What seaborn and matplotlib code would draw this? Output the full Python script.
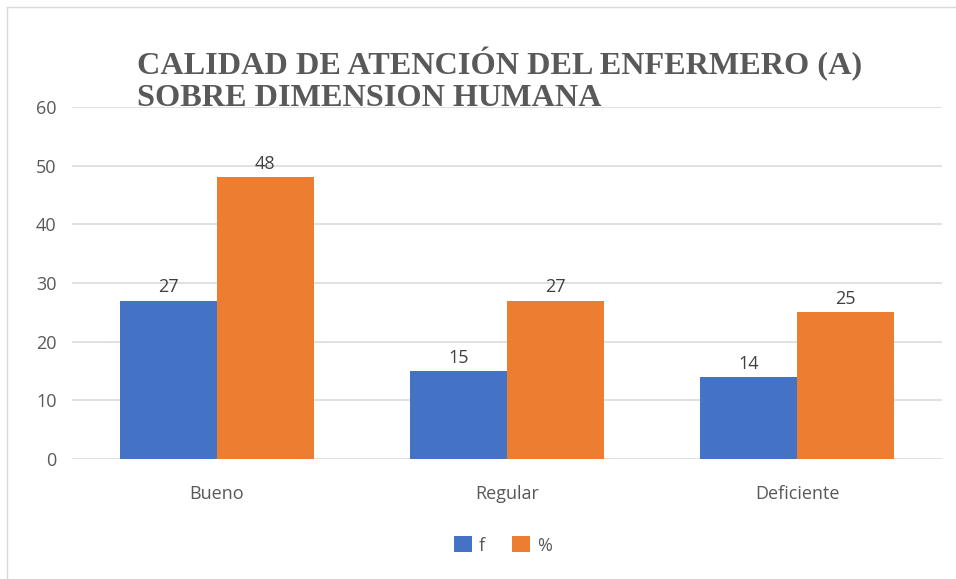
import pandas as pd
import matplotlib.pyplot as plt
import seaborn as sns
from matplotlib.patches import Patch
from matplotlib.lines import Line2D

# ── datos ─────────────────────────────────────────────
categorias = ["Bueno", "Regular", "Deficiente"]
series = ["f", "%"]
valores_f = [27, 15, 14]
valores_pct = [48, 27, 25]
y_ticks = [0, 10, 20, 30, 40, 50, 60]
titulo = "CALIDAD DE ATENCIÓN DEL ENFERMERO (A)\nSOBRE DIMENSION HUMANA"

colores = ["#4472C4", "#ED7D31"]

df = pd.DataFrame({
    "categoria": categorias * 2,
    "serie": [series[0]] * 3 + [series[1]] * 3,
    "valor": valores_f + valores_pct,
})

sns.set_style("white")
plt.rcParams["font.family"] = ["Open Sans", "DejaVu Sans"]

fig = plt.figure(figsize=(9.56, 5.79), dpi=100)
ax = fig.add_axes([0.0753, 0.2073, 0.9101, 0.6079])

sns.barplot(data=df, x="categoria", y="valor", hue="serie", order=categorias,
            hue_order=series, palette=colores, width=0.667, ax=ax,
            saturation=1, legend=False, linewidth=0)

ax.set_ylim(0, 60)
ax.set_xlim(-0.5, 2.5)
ax.set_yticks(y_ticks)
ax.yaxis.grid(True, color="#d9d9d9", linewidth=1.1)
ax.set_axisbelow(True)
for s in ax.spines.values():
    s.set_visible(False)
ax.tick_params(axis="both", length=0, labelsize=13, labelcolor="#595959")
ax.tick_params(axis="y", pad=11)
ax.tick_params(axis="x", pad=19)
ax.set_xlabel("")
ax.set_ylabel("")

for container in ax.containers:
    ax.bar_label(container, fmt="%d", padding=3, fontsize=13, color="#404040")

fig.text(0.1433, 0.862, titulo, ha="left", va="center", fontsize=23.2,
         fontweight="bold", color="#595959", family="Liberation Serif",
         linespacing=1.1)

handles = [Patch(facecolor=c, edgecolor="none") for c in colores]
fig.legend(handles, series, loc="center", bbox_to_anchor=(0.526, 0.058), ncol=2,
           frameon=False, fontsize=13, handlelength=1.0, handleheight=1.0,
           columnspacing=1.5, handletextpad=0.4, labelcolor="#595959")

# borde del gráfico
fig.add_artist(Line2D([0.0073, 0.0073], [0, 0.988], color="#d9d9d9", lw=1))
fig.add_artist(Line2D([0.0073, 1], [0.988, 0.988], color="#d9d9d9", lw=1))

fig.savefig("out.png", dpi=100)
